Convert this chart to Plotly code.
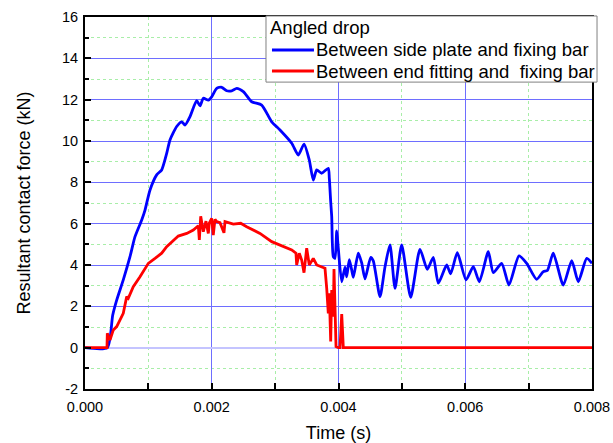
import plotly.graph_objects as go

# ---- data (time in s, force in kN) ----
blue_t = [0.0, 0.000352, 0.000437, 0.000500, 0.000604, 0.000710, 0.000789, 0.000895, 0.000947,
          0.001026, 0.001131, 0.001210, 0.001289, 0.001341, 0.001447, 0.001526, 0.001578, 0.001657,
          0.001762, 0.001815, 0.001867, 0.001946, 0.001999, 0.002078, 0.002157, 0.002236, 0.002315,
          0.002394, 0.002498, 0.002630, 0.002788, 0.002946, 0.003077, 0.003262, 0.003366, 0.003456,
          0.003539, 0.003602, 0.003656, 0.003735, 0.003839, 0.003855, 0.003877, 0.003893, 0.003918,
          0.003945, 0.003972, 0.003997, 0.004051, 0.004103, 0.004129, 0.004170, 0.004208, 0.004234,
          0.004312, 0.004366, 0.004418, 0.004508, 0.004549, 0.004655, 0.004734, 0.004812, 0.004892,
          0.004997, 0.005139, 0.005286, 0.005401, 0.005496, 0.005575, 0.005707, 0.005770, 0.005875,
          0.006012, 0.006127, 0.006222, 0.006364, 0.006443, 0.006575, 0.006690, 0.006848, 0.006970,
          0.007127, 0.007232, 0.007295, 0.007389, 0.007547, 0.007680, 0.007784, 0.007916, 0.008000]
blue_f = [0.0, 0.0, 1.57, 2.30, 3.28, 4.40, 5.37, 6.18, 6.66,
          7.63, 8.36, 8.60, 9.40, 10.05, 10.70, 10.93, 10.77, 11.18,
          11.95, 11.70, 12.07, 11.98, 12.14, 12.55, 12.60, 12.43, 12.43,
          12.55, 12.39, 11.90, 11.74, 10.93, 10.53, 9.89, 9.32, 9.85,
          9.08, 8.11, 8.60, 8.44, 8.68, 8.20, 7.06, 6.34, 4.40,
          4.32, 5.65, 4.80, 3.19, 3.90, 3.43, 4.26, 3.76, 3.40,
          4.57, 4.10, 3.33, 4.37, 4.20, 2.47, 3.92, 4.97, 2.87,
          4.97, 2.44, 4.76, 3.79, 4.37, 3.12, 4.00, 3.57, 4.60,
          3.28, 3.92, 3.19, 4.64, 3.63, 4.08, 3.03, 4.44, 4.08,
          3.31, 3.68, 3.73, 4.57, 3.03, 4.21, 3.19, 4.32, 4.08]

red_t = [0.0, 0.000347, 0.000352, 0.000394, 0.000447, 0.000500, 0.000604, 0.000658, 0.000683,
         0.000762, 0.000868, 0.000999, 0.001105, 0.001210, 0.001289, 0.001368, 0.001472, 0.001605,
         0.001709, 0.001788, 0.001804, 0.001826, 0.001867, 0.001909, 0.001946, 0.001961, 0.001999,
         0.002024, 0.002051, 0.002078, 0.002130, 0.002193, 0.002209, 0.002340, 0.002457, 0.002551,
         0.002761, 0.002946, 0.003129, 0.003262, 0.003329, 0.003340, 0.003381, 0.003419, 0.003456,
         0.003498, 0.003539, 0.003602, 0.003656, 0.003735, 0.003787, 0.003814, 0.003839, 0.003855,
         0.003877, 0.003893, 0.003918, 0.003929, 0.003945, 0.003961, 0.003997, 0.004024, 0.004051,
         0.004076, 0.008000]
red_f = [0.0, 0.0, 0.70, 0.37, 0.86, 1.02, 1.66, 2.47, 2.39,
         2.95, 3.43, 4.08, 4.32, 4.57, 4.89, 5.13, 5.40, 5.53,
         5.69, 5.90, 5.21, 6.36, 5.61, 6.12, 5.53, 6.02, 6.26,
         5.45, 6.21, 6.10, 6.05, 5.56, 6.10, 5.98, 6.02, 5.85,
         5.53, 5.13, 4.89, 4.73, 4.57, 4.00, 4.57, 4.24, 3.63,
         4.81, 4.00, 4.32, 4.00, 3.92, 3.84, 2.87, 1.66, 2.63,
         0.30, 2.79, 1.50, 3.80, 2.15, 0.05, 0.0, 0.0, 1.62,
         0.0, 0.0]

series_names = ["Between side plate and fixing bar", "Between end fitting and\u00a0 fixing bar"]
series_colors = ["#0000ff", "#ff0000"]
legend_title = "Angled drop"
x_tick_vals = [0.000, 0.002, 0.004, 0.006, 0.008]
x_tick_text = ["0.000", "0.002", "0.004", "0.006", "0.008"]
y_tick_vals = [-2, 0, 2, 4, 6, 8, 10, 12, 14, 16]
y_tick_text = ["-2", "0", "2", "4", "6", "8", "10", "12", "14", "16"]

FONT = "Arial, 'Liberation Sans', sans-serif"

fig = go.Figure()
fig.add_trace(go.Scatter(x=blue_t, y=blue_f, mode="lines", name=series_names[0], showlegend=False,
                         line=dict(color=series_colors[0], width=2.8, shape="spline", smoothing=0.6)))
fig.add_trace(go.Scatter(x=red_t, y=red_f, mode="lines", name=series_names[1], showlegend=False,
                         line=dict(color=series_colors[1], width=2.8)))

# ---- legend box (paper coordinates) ----
LX0, LX1, LY0, LY1 = 0.357, 1.0099, 0.825, 1.0027
SYM_X0, SYM_X1, TXT_X = 0.3688, 0.4516, 0.4526
ROW_Y = [0.9113, 0.8548]
fig.add_shape(type="rect", xref="paper", yref="paper", x0=LX0, x1=LX1, y0=LY0, y1=LY1,
              line=dict(color="#808080", width=1), fillcolor="white", layer="above")
fig.add_annotation(xref="paper", yref="paper", x=0.3600, y=0.9731, xanchor="left", yanchor="middle",
                   text=legend_title, showarrow=False, font=dict(size=18.5, color="black"))
for name, col, yy in zip(series_names, series_colors, ROW_Y):
    fig.add_shape(type="line", xref="paper", yref="paper", x0=SYM_X0, x1=SYM_X1, y0=yy, y1=yy,
                  line=dict(color=col, width=2.8), layer="above")
    fig.add_annotation(xref="paper", yref="paper", x=TXT_X, y=yy, xanchor="left", yanchor="middle",
                       text=name, showarrow=False, font=dict(size=18.5, color="black"))

fig.update_layout(
    width=613, height=443,
    margin=dict(l=85, r=21, t=17, b=54, autoexpand=False),
    paper_bgcolor="white", plot_bgcolor="white",
    font=dict(family=FONT, color="black"),
    showlegend=False,
)

fig.update_xaxes(
    range=[0, 0.008], tickvals=x_tick_vals, ticktext=x_tick_text,
    showline=True, linecolor="black", linewidth=2, mirror=True,
    ticks="inside", ticklen=6, tickcolor="black", tickwidth=1.5,
    tickfont=dict(size=14.5), ticklabelstandoff=4,
    showgrid=True, gridcolor="#6e6eff", gridwidth=1,
    zeroline=False,
    minor=dict(dtick=0.001, ticks="inside", ticklen=6, tickcolor="black", tickwidth=1.5,
               showgrid=True, gridcolor="#a8eea8", griddash="dot", gridwidth=1),
    title=dict(text="Time (s)", font=dict(size=18), standoff=12),
)
fig.update_yaxes(
    range=[-2, 16], tickvals=y_tick_vals, ticktext=y_tick_text,
    showline=True, linecolor="black", linewidth=2, mirror=True,
    ticks="inside", ticklen=6, tickcolor="black", tickwidth=1.5,
    tickfont=dict(size=14.5), ticklabelstandoff=2,
    showgrid=True, gridcolor="#6e6eff", gridwidth=1,
    zeroline=True, zerolinecolor="#c4c4ff", zerolinewidth=2,
    minor=dict(dtick=1, ticks="inside", ticklen=4, tickcolor="black", tickwidth=1.5,
               showgrid=True, gridcolor="#a8eea8", griddash="dot", gridwidth=1),
    title=dict(text="Resultant contact force (kN)", font=dict(size=18), standoff=27),
)

fig.write_html("out.html")
